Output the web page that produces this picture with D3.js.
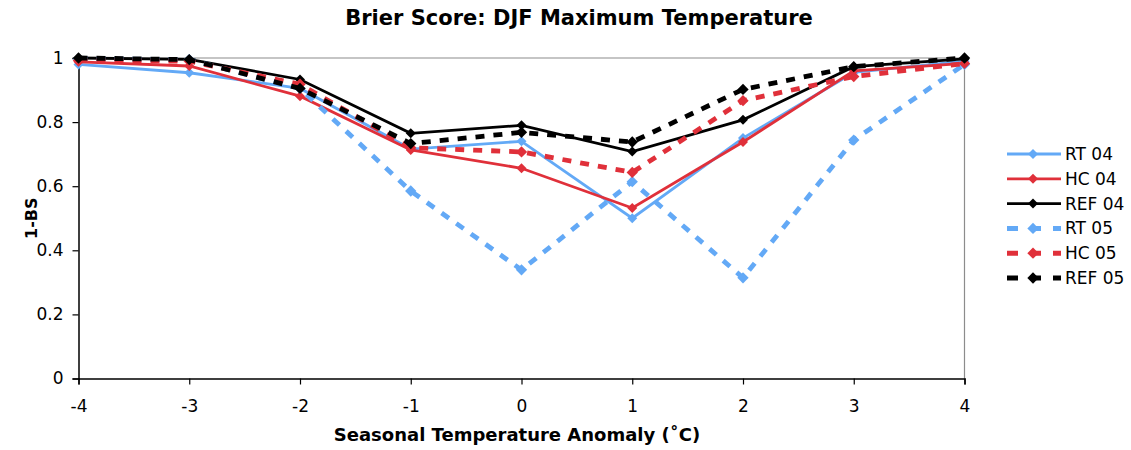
<!DOCTYPE html>
<html>
<head>
<meta charset="utf-8">
<script src="https://cdn.jsdelivr.net/npm/d3@7"></script>
<style>
  body { margin: 0; background: #fff; }
  text { font-family: "DejaVu Sans", Verdana, sans-serif; fill: #000; }
</style>
</head>
<body>
<div id="chart"></div>
<script>
// anomaly classes on the x axis
const anomalies = [-4, -3, -2, -1, 0, 1, 2, 3, 4];
const yTicks = [0, 0.2, 0.4, 0.6, 0.8, 1];

// 1-BS values
const rt04  = [0.980, 0.954, 0.905, 0.716, 0.740, 0.500, 0.750, 0.955, 0.990];
const hc04  = [0.988, 0.975, 0.881, 0.713, 0.656, 0.532, 0.738, 0.960, 0.983];
const ref04 = [1.000, 0.996, 0.933, 0.765, 0.790, 0.708, 0.807, 0.973, 0.997];
const rt05  = [0.997, 0.995, 0.905, 0.585, 0.339, 0.614, 0.314, 0.744, 0.980];
const hc05  = [0.992, 0.990, 0.918, 0.720, 0.707, 0.643, 0.867, 0.942, 0.983];
const ref05 = [1.000, 0.995, 0.905, 0.733, 0.768, 0.738, 0.902, 0.973, 1.000];

const seriesNames = ["RT 04", "HC 04", "REF 04", "RT 05", "HC 05", "REF 05"];
const seriesData = [rt04, hc04, ref04, rt05, hc05, ref05];

const w = 1131, h = 450;
const padL = 78.5, padR = 964.5, padT = 58, padB = 378.5;

const svg = d3.select("#chart").append("svg")
  .attr("width", w)
  .attr("height", h);

const x = d3.scaleLinear().domain([-4, 4]).range([padL, padR]);
const y = d3.scaleLinear().domain([0, 1]).range([padB, padT]);

// styles per series
const colors = ["#63a9f6", "#e0303a", "#000000", "#63a9f6", "#e0303a", "#000000"];
const dashed = [false, false, false, true, true, true];

// plot frame (top and right grey)
svg.append("path")
  .attr("d", `M${padL},${padT}H${padR}V${padB}`)
  .attr("fill", "none")
  .attr("stroke", "#8c8c8c")
  .attr("stroke-width", 1.2);

// axes
const yAxis = d3.axisLeft(y).tickValues(yTicks).tickSize(6).tickPadding(9)
  .tickFormat(d => String(+d.toFixed(1)));
svg.append("g")
  .attr("transform", `translate(${padL},0)`)
  .call(yAxis)
  .call(g => g.selectAll("text").style("font-size", "17px"));

const xAxis = d3.axisBottom(x).tickValues(anomalies).tickSize(6).tickPadding(15)
  .tickFormat(d => String(d));
svg.append("g")
  .attr("transform", `translate(0,${padB})`)
  .call(xAxis)
  .call(g => g.selectAll("text").style("font-size", "17px"));

svg.selectAll(".domain").attr("stroke", "#000").attr("stroke-width", 1.5);
svg.selectAll(".tick line").attr("stroke", "#000").attr("stroke-width", 1.2);

const line = d3.line()
  .x((d, i) => x(anomalies[i]))
  .y(d => y(d));

// excel style diamond: a square turned 45 degrees
const diamond = d3.symbol().type(d3.symbolSquare);

seriesData.forEach((vals, k) => {
  const g = svg.append("g");
  g.append("path")
    .datum(vals)
    .attr("d", line)
    .attr("fill", "none")
    .attr("stroke", colors[k])
    .attr("stroke-width", dashed[k] ? 4.8 : 2.8)
    .attr("stroke-dasharray", dashed[k] ? "9,9" : null);
  g.selectAll("path.m")
    .data(vals)
    .enter().append("path")
    .attr("class", "m")
    .attr("d", diamond.size(dashed[k] ? 64 : 50))
    .attr("transform", (d, i) => `translate(${x(anomalies[i])},${y(d)}) rotate(45)`)
    .attr("fill", colors[k]);
});

// title and axis labels
svg.append("text")
  .attr("x", 579).attr("y", 25)
  .attr("text-anchor", "middle")
  .style("font-size", "21px").style("font-weight", "bold")
  .text("Brier Score: DJF Maximum Temperature");

svg.append("text")
  .attr("x", 517).attr("y", 441)
  .attr("text-anchor", "middle")
  .style("font-size", "18px").style("font-weight", "bold")
  .text("Seasonal Temperature Anomaly (˚C)");

svg.append("text")
  .attr("transform", `translate(37,${(padT + padB) / 2}) rotate(-90)`)
  .attr("text-anchor", "middle")
  .style("font-size", "16px").style("font-weight", "bold")
  .text("1-BS");

// legend
const legend = svg.append("g").attr("transform", "translate(1007,154)");
seriesNames.forEach((name, k) => {
  const row = legend.append("g").attr("transform", `translate(0,${k * 24.8})`);
  row.append("line")
    .attr("x1", 0).attr("x2", 54)
    .attr("stroke", colors[k])
    .attr("stroke-width", dashed[k] ? 5 : 2.8)
    .attr("stroke-dasharray", dashed[k] ? "11,12" : null);
  row.append("path")
    .attr("d", diamond.size(dashed[k] ? 64 : 50))
    .attr("transform", "translate(26,0) rotate(45)")
    .attr("fill", colors[k]);
  row.append("text")
    .attr("x", 58).attr("y", 6)
    .style("font-size", "17px")
    .text(name);
});
</script>
</body>
</html>
